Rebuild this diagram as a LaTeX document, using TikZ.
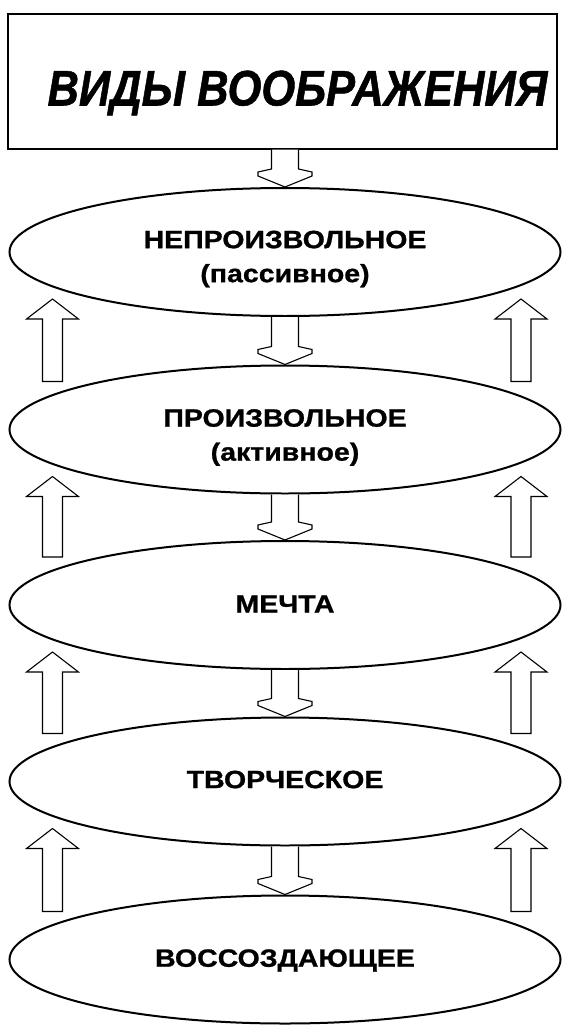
\documentclass[tikz,border=0pt]{standalone}
\usepackage{fontspec}
\setmainfont{Liberation Sans}
\newfontfamily\titlefont[FakeStretch=0.87,FakeBold=1]{Liberation Sans}
\newfontfamily\ellfont[FakeStretch=1.14,FakeBold=1]{Liberation Sans}
\usetikzlibrary{shapes.geometric,calc}
\tikzset{
  kind/.style={ellipse, draw, line width=2pt, minimum width=551pt, minimum height=128pt,
    inner sep=0pt},
  lbl/.style={align=center, inner sep=0pt, font=\ellfont\bfseries\fontsize{25}{34}\selectfont},
  titlebox/.style={draw, line width=1.4pt, minimum width=549pt, minimum height=135pt,
    inner sep=0pt},
  titlelbl/.style={inner sep=0pt, text height=48pt, text depth=0pt,
    font=\titlefont\bfseries\itshape\fontsize{50}{50}\selectfont},
  blk/.style={draw, line width=1.1pt, line join=miter, fill=white},
}
\newcommand\blkdown[2]{%
  \draw[blk] let \p1=(#1.south), \p2=(#2.north) in
    (\x2-13.5pt,\y1) -- (\x2-13.5pt,\y2+18pt) -- (\x2-27pt,\y2+15pt) -- (\x2-27pt,\y2+11pt)
    -- (\x2,\y2) -- (\x2+27pt,\y2+11pt) -- (\x2+27pt,\y2+15pt) -- (\x2+13.5pt,\y2+18pt)
    -- (\x2+13.5pt,\y1);}
\newcommand\blkup[3]{%
  \draw[blk] let \p1=(#1.south), \p2=(#2.north), \p3=(#1.center) in
    ({\x3+(#3)-10pt},\y2-17pt) -- ({\x3+(#3)-10pt},\y1-2pt) -- ({\x3+(#3)-26pt},\y1-2pt)
    -- ({\x3+(#3)},\y1+18pt) -- ({\x3+(#3)+26pt},\y1-2pt) -- ({\x3+(#3)+10pt},\y1-2pt)
    -- ({\x3+(#3)+10pt},\y2-17pt) -- cycle;}
\begin{document}
\begin{tikzpicture}[x=1pt,y=-1pt]
\useasboundingbox (0,0) rectangle (562,1025);
\node[titlebox, label={[titlelbl, xshift=15pt]center:ВИДЫ ВООБРАЖЕНИЯ}] (title) at (282.5,81.5) {};
\node[kind, label={[lbl, yshift=-7pt]center:НЕПРОИЗВОЛЬНОЕ\\(пассивное)}] (e1) at (285,252) {};
\node[kind, label={[lbl, yshift=-8pt]center:ПРОИЗВОЛЬНОЕ\\(активное)}] (e2) at (285,429.5) {};
\node[kind, label={[lbl, yshift=1pt]center:МЕЧТА}] (e3) at (285,605) {};
\node[kind, label={[lbl, yshift=2pt]center:ТВОРЧЕСКОЕ}] (e4) at (285,781.5) {};
\node[kind, label={[lbl, yshift=-1pt]center:ВОССОЗДАЮЩЕЕ}] (e5) at (285,959.5) {};
\blkdown{title}{e1}
\blkdown{e1}{e2}
\blkdown{e2}{e3}
\blkdown{e3}{e4}
\blkdown{e4}{e5}
\foreach \u/\l in {e1/e2,e2/e3,e3/e4,e4/e5}{
  \blkup{\u}{\l}{-232.5pt}
  \blkup{\u}{\l}{236pt}
}
\end{tikzpicture}
\end{document}
